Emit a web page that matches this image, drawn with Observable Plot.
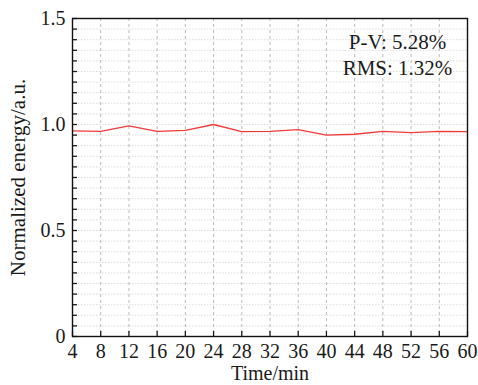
<!DOCTYPE html>
<html>
<head>
<meta charset="utf-8">
<script src="https://cdn.jsdelivr.net/npm/d3@7"></script>
<script src="https://cdn.jsdelivr.net/npm/@observablehq/plot@0.6"></script>
<style>
  html, body { margin: 0; padding: 0; background: #fff; }
  svg, svg text { font-family: "Liberation Serif", "Times New Roman", Times, serif !important; }
</style>
</head>
<body>
<div id="chart"></div>
<script>
// ---- data ----
const times = [4, 8, 12, 16, 20, 24, 28, 32, 36, 40, 44, 48, 52, 56, 60];
const energy = [0.970, 0.968, 0.994, 0.968, 0.972, 1.000, 0.966, 0.968, 0.976, 0.950, 0.954, 0.968, 0.962, 0.968, 0.966];
const xTicks = [4, 8, 12, 16, 20, 24, 28, 32, 36, 40, 44, 48, 52, 56, 60];
const xGrid = [8, 12, 16, 20, 24, 28, 32, 36, 40, 44, 48, 52, 56];
const yTicks = [0, 0.5, 1.0, 1.5];
const yMinorTicks = [0, 0.05, 0.1, 0.15, 0.2, 0.25, 0.3, 0.35, 0.4, 0.45, 0.5, 0.55, 0.6, 0.65, 0.7, 0.75, 0.8, 0.85, 0.9, 0.95, 1.0, 1.05, 1.1, 1.15, 1.2, 1.25, 1.3, 1.35, 1.4, 1.45, 1.5];
const yGrid = yMinorTicks.filter(v => v > 0 && v < 1.5);
const annotation = ["P-V: 5.28%\nRMS: 1.32%"];
const xLabel = ["Time/min"];
const yLabel = ["Normalized energy/a.u."];

const serif = '"Liberation Serif", "Times New Roman", Times, serif';
const rows = times.map((t, i) => ({time: t, energy: energy[i]}));

const chart = Plot.plot({
  width: 478,
  height: 385,
  marginLeft: 72,
  marginRight: 11,
  marginTop: 18,
  marginBottom: 49,
  style: {fontFamily: serif, fontSize: "20px", color: "#1a1a1a", background: "#fff"},
  x: {domain: [4, 60]},
  y: {domain: [0, 1.5]},
  marks: [
    Plot.gridY(yGrid, {stroke: "#d4d4d4", strokeOpacity: 1, strokeWidth: 0.8, strokeDasharray: "1.5,1.5"}),
    Plot.gridX(xGrid, {stroke: "#a8a8a8", strokeOpacity: 1, strokeWidth: 0.8, strokeDasharray: "3,3"}),
    Plot.line(rows, {x: "time", y: "energy", stroke: "#f23a3a", strokeWidth: 1.3}),
    Plot.axisX(xTicks, {tickSize: 0, tickPadding: 7, label: null, fontSize: 20, fontFamily: serif}),
    Plot.axisX(xTicks, {tickSize: -5, text: null, label: null, strokeWidth: 1.3}),
    Plot.axisY(yTicks, {tickSize: 0, tickPadding: 7, label: null, fontSize: 20, fontFamily: serif, tickFormat: d => d === 0 ? "0" : d.toFixed(1)}),
    Plot.axisY(yMinorTicks, {tickSize: -5, text: null, label: null, strokeWidth: 1.3}),
    Plot.frame({stroke: "#111", strokeWidth: 1.4}),
    Plot.text(xLabel, {frameAnchor: "bottom", lineAnchor: "middle", dy: 37, fontSize: 20, fontFamily: serif, fill: "#1a1a1a"}),
    Plot.text(yLabel, {frameAnchor: "left", textAnchor: "middle", lineAnchor: "middle", rotate: -90, dx: -54, fontSize: 21, fontFamily: serif, fill: "#1a1a1a"}),
    Plot.text(annotation, {frameAnchor: "top-right", textAnchor: "middle", lineAnchor: "top", dx: -70, dy: 13, lineHeight: 1.2, fontSize: 21, fontFamily: serif, fill: "#1a1a1a"})
  ]
});
document.getElementById("chart").appendChild(chart);
</script>
</body>
</html>
